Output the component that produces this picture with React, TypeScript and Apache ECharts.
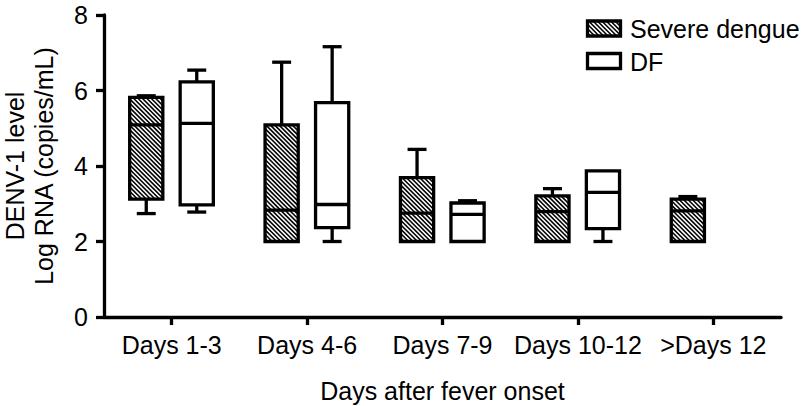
import React, { useEffect, useRef } from 'react';
import * as echarts from 'echarts';

const categories = ['Days 1-3', 'Days 4-6', 'Days 7-9', 'Days 10-12', '>Days 12'];
const yMin = 0;
const yMax = 8;
const yInterval = 2;

// Severe dengue: min, Q1, median, Q3, max (log copies/mL)
const severeMin = [2.74, 2.0, 2.0, 2.0, 2.0];
const severeQ1 = [3.12, 2.0, 2.0, 2.0, 2.0];
const severeMedian = [5.09, 2.83, 2.75, 2.79, 2.81];
const severeQ3 = [5.82, 5.09, 3.69, 3.21, 3.12];
const severeMax = [5.86, 6.75, 4.44, 3.4, 3.19];

// DF
const dfMin = [2.78, 2.0, 2.0, 2.0, null];
const dfQ1 = [2.97, 2.37, 2.0, 2.34, null];
const dfMedian = [5.13, 2.98, 2.72, 3.3, null];
const dfQ3 = [6.23, 5.68, 3.02, 3.87, null];
const dfMax = [6.54, 7.16, 3.08, 3.87, null];

const seriesNames = ['Severe dengue', 'DF'];

const FONT = '"Liberation Sans", Arial, Helvetica, sans-serif';
const FS = 25;
const LW = 3.3;

function buildData(mins: (number | null)[], q1s: (number | null)[], meds: (number | null)[], q3s: (number | null)[], maxs: (number | null)[]) {
  const out: number[][] = [];
  categories.forEach((_, i) => {
    if (mins[i] == null) return;
    out.push([i, mins[i] as number, q1s[i] as number, meds[i] as number, q3s[i] as number, maxs[i] as number]);
  });
  return out;
}

function hatchLines(x0: number, y0: number, w: number, h: number, step: number, lw: number) {
  const out: any[] = [];
  const cMin = y0 - (x0 + w);
  const cMax = y0 + h - x0;
  const kStart = Math.ceil(cMin / step);
  const kEnd = Math.floor(cMax / step);
  for (let k = kStart; k <= kEnd; k++) {
    const c = k * step;
    const xs = Math.max(x0, y0 - c);
    const xe = Math.min(x0 + w, y0 + h - c);
    if (xe - xs > 0.3) {
      out.push({
        type: 'line',
        shape: { x1: xs, y1: xs + c, x2: xe, y2: xe + c },
        style: { stroke: '#000', lineWidth: lw },
        silent: true,
      });
    }
  }
  return out;
}

function makeRenderItem(offsetFrac: number, hatched: boolean) {
  return function (params: any, api: any) {
    const idx = api.value(0);
    const bw = api.size([1, 0])[0];
    const cx = api.coord([idx, 0])[0] + offsetFrac * bw;
    const yMinP = api.coord([idx, api.value(1)])[1];
    const yQ1 = api.coord([idx, api.value(2)])[1];
    const yMed = api.coord([idx, api.value(3)])[1];
    const yQ3 = api.coord([idx, api.value(4)])[1];
    const yMaxP = api.coord([idx, api.value(5)])[1];
    const boxW = bw * 0.245;
    const capW = bw * 0.14;
    const x0 = cx - boxW / 2;
    const children: any[] = [];
    children.push({
      type: 'rect',
      shape: { x: x0, y: yQ3, width: boxW, height: yQ1 - yQ3 },
      style: { fill: '#fff', stroke: null },
    });
    if (hatched) {
      children.push(...hatchLines(x0, yQ3, boxW, yQ1 - yQ3, 4.4, 1.6));
    }
    const lineStyle = { stroke: '#000', lineWidth: LW };
    if (yMaxP < yQ3 - 0.5) {
      children.push({ type: 'line', shape: { x1: cx, y1: yQ3, x2: cx, y2: yMaxP }, style: lineStyle });
      children.push({ type: 'line', shape: { x1: cx - capW / 2, y1: yMaxP, x2: cx + capW / 2, y2: yMaxP }, style: lineStyle });
    }
    if (yMinP > yQ1 + 0.5) {
      children.push({ type: 'line', shape: { x1: cx, y1: yQ1, x2: cx, y2: yMinP }, style: lineStyle });
      children.push({ type: 'line', shape: { x1: cx - capW / 2, y1: yMinP, x2: cx + capW / 2, y2: yMinP }, style: lineStyle });
    }
    children.push({
      type: 'rect',
      shape: { x: x0, y: yQ3, width: boxW, height: yQ1 - yQ3 },
      style: { fill: null, stroke: '#000', lineWidth: LW, lineJoin: 'miter' },
    });
    children.push({ type: 'line', shape: { x1: x0, y1: yMed, x2: x0 + boxW, y2: yMed }, style: lineStyle });
    return { type: 'group', children };
  };
}

function legendGraphic() {
  const ix = 587.5;
  const iw = 33;
  const ih = 15;
  const rows = [
    { y: 21, hatched: true, label: seriesNames[0] },
    { y: 53.5, hatched: false, label: seriesNames[1] },
  ];
  const children: any[] = [];
  rows.forEach((r) => {
    children.push({ type: 'rect', shape: { x: ix, y: r.y, width: iw, height: ih }, style: { fill: '#fff' } });
    if (r.hatched) children.push(...hatchLines(ix, r.y, iw, ih, 4.4, 1.6));
    children.push({
      type: 'rect',
      shape: { x: ix, y: r.y, width: iw, height: ih },
      style: { fill: null, stroke: '#000', lineWidth: LW },
    });
    children.push({
      type: 'text',
      x: 630,
      y: r.y + ih / 2 + 0.5,
      style: {
        text: r.label,
        font: `${FS}px ${FONT}`,
        fill: '#000',
        textAlign: 'left',
        textVerticalAlign: 'middle',
      },
    });
  });
  return [{ type: 'group', children }];
}

export default function App() {
  const ref = useRef<HTMLDivElement>(null);
  useEffect(() => {
    if (!ref.current) return;
    const chart = echarts.init(ref.current, null, { renderer: 'svg' });
    const axisText = { color: '#000', fontSize: FS, fontFamily: FONT };
    chart.setOption({
      animation: false,
      backgroundColor: '#fff',
      grid: { left: 104, top: 15, width: 677, height: 302, containLabel: false, outerBoundsMode: 'none' },
      xAxis: {
        type: 'category',
        data: categories,
        boundaryGap: true,
        name: 'Days after fever onset',
        nameLocation: 'middle',
        nameGap: 61,
        nameTextStyle: axisText,
        axisLine: { show: true, lineStyle: { color: '#000', width: LW } },
        axisTick: { show: true, alignWithLabel: true, length: 8, lineStyle: { color: '#000', width: LW } },
        axisLabel: { ...axisText, margin: 15, interval: 0 },
        splitLine: { show: false },
      },
      yAxis: {
        type: 'value',
        min: yMin,
        max: yMax,
        interval: yInterval,
        name: 'DENV-1 level\nLog RNA (copies/mL)',
        nameLocation: 'middle',
        nameRotate: 90,
        nameGap: 45,
        nameTextStyle: { ...axisText, lineHeight: 29.5 },
        axisLine: { show: true, lineStyle: { color: '#000', width: LW } },
        axisTick: { show: true, length: 8, lineStyle: { color: '#000', width: LW } },
        axisLabel: { ...axisText, margin: 16 },
        splitLine: { show: false },
      },
      series: [
        {
          name: seriesNames[0],
          type: 'custom',
          renderItem: makeRenderItem(-0.188, true),
          encode: { x: 0, y: [1, 2, 3, 4, 5] },
          data: buildData(severeMin, severeQ1, severeMedian, severeQ3, severeMax),
        },
        {
          name: seriesNames[1],
          type: 'custom',
          renderItem: makeRenderItem(0.185, false),
          encode: { x: 0, y: [1, 2, 3, 4, 5] },
          data: buildData(dfMin, dfQ1, dfMedian, dfQ3, dfMax),
        },
      ],
      graphic: legendGraphic(),
    });
    return () => chart.dispose();
  }, []);
  return <div ref={ref} style={{ position: 'fixed', left: 0, top: 0, width: 809, height: 406 }} />;
}
